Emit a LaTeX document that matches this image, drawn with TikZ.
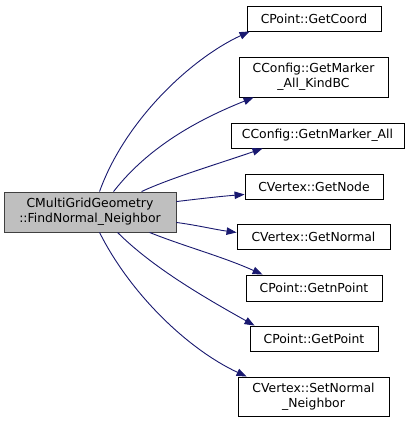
\documentclass[tikz,border=0pt]{standalone}
\usepackage{fontspec}
\setmainfont{DejaVu Sans}
\usetikzlibrary{arrows.meta}
\definecolor{edgeblue}{HTML}{191970}
\definecolor{boxgray}{HTML}{BFBFBF}
\definecolor{boxline}{HTML}{404040}
\begin{document}
\begin{tikzpicture}[x=1bp,y=-1bp,
  every node/.style={font=\fontsize{12.4bp}{14.6bp}\selectfont, inner sep=0pt, align=center},
  fbox/.style={draw=black, line width=0.9bp, fill=white},
  mainbox/.style={draw=boxline, line width=0.9bp, fill=boxgray},
  edge/.style={draw=edgeblue, line width=0.9bp, -{Triangle[length=10bp,width=7.5bp]}}]
\useasboundingbox (0,0) rectangle (409,423);
\fill[white] (0,0) rectangle (409,423);

\node[mainbox, minimum width=172bp, minimum height=40bp] (main) at (90,212) {CMultiGridGeometry\\::FindNormal\_Neighbor};

\node[fbox, minimum width=134bp, minimum height=25bp] (b1) at (314,18.5) {CPoint::GetCoord};
\node[fbox, minimum width=149bp, minimum height=40bp] (b2) at (313.5,77) {CConfig::GetMarker\\\_All\_KindBC};
\node[fbox, minimum width=173bp, minimum height=25bp] (b3) at (317.5,135.5) {CConfig::GetnMarker\_All};
\node[fbox, minimum width=138bp, minimum height=25bp] (b4) at (314,186.5) {CVertex::GetNode};
\node[fbox, minimum width=153bp, minimum height=25bp] (b5) at (313.5,236.5) {CVertex::GetNormal};
\node[fbox, minimum width=136bp, minimum height=26bp] (b6) at (314,288) {CPoint::GetnPoint};
\node[fbox, minimum width=128bp, minimum height=25bp] (b7) at (314,338.5) {CPoint::GetPoint};
\node[fbox, minimum width=151bp, minimum height=39bp] (b8) at (313.5,396.5) {CVertex::SetNormal\\\_Neighbor};

\draw[edge] ([xshift=96bp]main.north west) .. controls +(25,-70) and +(-60,28) .. ([xshift=3bp]b1.south west);
\draw[edge] ([xshift=110bp]main.north west) .. controls +(35,-45) and +(-55,22) .. ([xshift=15bp]b2.south west);
\draw[edge] ([xshift=138bp]main.north west) .. controls +(30,-14) and +(-40,14) .. ([xshift=32bp]b3.south west);
\draw[edge] ([yshift=-10bp]main.north east) .. controls +(25,-3) and +(-25,2) .. ([yshift=5bp]b4.south west);
\draw[edge] ([yshift=10bp]main.south east) .. controls +(22,3) and +(-22,-3) .. ([yshift=17bp]b5.south west);
\draw[edge] ([xshift=146bp]main.south west) .. controls +(35,14) and +(-40,-18) .. ([xshift=17bp]b6.north west);
\draw[edge] ([xshift=114bp]main.south west) .. controls +(35,35) and +(-50,-28) .. ([xshift=5bp]b7.north west);
\draw[edge] ([xshift=96bp]main.south west) .. controls +(30,60) and +(-60,-28) .. ([xshift=9bp]b8.north west);
\end{tikzpicture}
\end{document}
